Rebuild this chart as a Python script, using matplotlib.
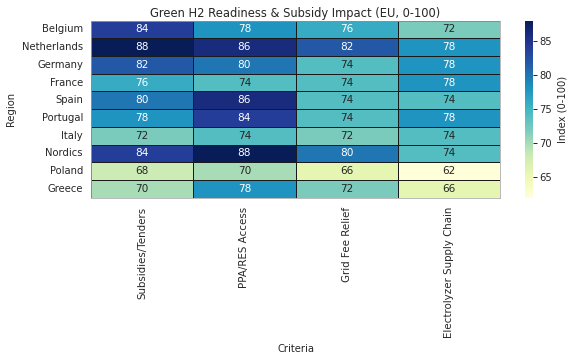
import matplotlib
matplotlib.use("Agg")
import matplotlib.pyplot as plt
import seaborn as sns
import pandas as pd
import numpy as np

regions = ["Belgium", "Netherlands", "Germany", "France", "Spain", "Portugal",
           "Italy", "Nordics", "Poland", "Greece"]
criteria = ["Subsidies/Tenders", "PPA/RES Access", "Grid Fee Relief", "Electrolyzer Supply Chain"]
subsidies = [84, 88, 82, 76, 80, 78, 72, 84, 68, 70]
ppa = [78, 86, 80, 74, 86, 84, 74, 88, 70, 78]
grid = [76, 82, 74, 74, 74, 74, 72, 80, 66, 72]
electrolyzer = [72, 78, 78, 78, 74, 78, 74, 74, 62, 66]

df = pd.DataFrame({criteria[0]: subsidies, criteria[1]: ppa,
                   criteria[2]: grid, criteria[3]: electrolyzer}, index=regions)
df.index.name = "Region"
df.columns.name = "Criteria"

sns.set_theme(style="white")
plt.rcParams['font.family'] = ['DejaVu Sans']

W, H = 576, 359
fig = plt.figure(figsize=(W/72, H/72), dpi=72)
top, bottom = 20.5, 197.7
ax = fig.add_axes([91/W, 1 - bottom/H, (500-91)/W, (bottom-top)/H])
cax = fig.add_axes([524.5/W, 1 - bottom/H, 8.5/W, (bottom-top)/H])
sns.heatmap(df, ax=ax, cbar_ax=cax, cmap="YlGnBu", annot=True, fmt="d",
            linewidths=0.8, linecolor="#1a1a1a",
            annot_kws={"fontsize": 10.5},
            cbar_kws={"label": "Index (0-100)"})
ax.set_title("Green H2 Readiness & Subsidy Impact (EU, 0-100)", fontsize=11.5, pad=4)
ax.set_xlabel("Criteria", fontsize=10, labelpad=6)
ax.set_ylabel("Region", fontsize=10, labelpad=6)
ax.tick_params(axis="x", labelsize=10.2, rotation=90, length=0, pad=9)
ax.tick_params(axis="y", labelsize=10, rotation=0, length=0, pad=8)
cax.tick_params(labelsize=10, length=4, width=1, color="#262626", left=False, right=True, pad=2)
cax.yaxis.label.set_size(10)
cax.yaxis.labelpad = 6
for s in ax.spines.values():
    s.set_visible(True)
    s.set_color("#aaaaaa")
    s.set_linewidth(0.8)
fig.savefig("out.png", dpi=72)
